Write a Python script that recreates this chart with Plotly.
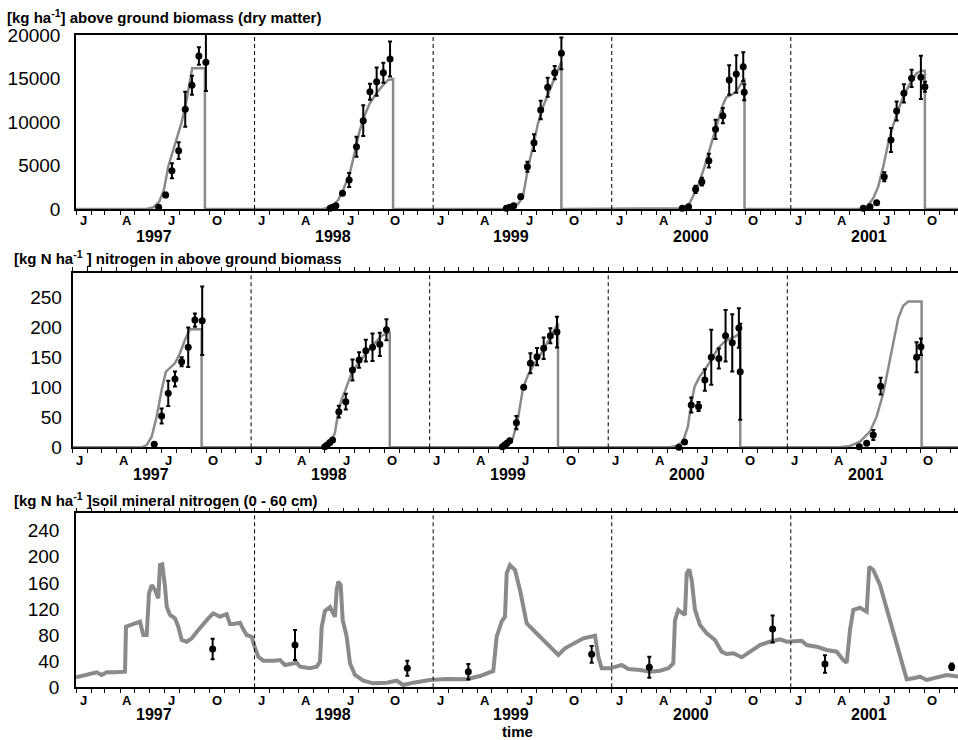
import pandas as pd
import plotly.graph_objects as go

YEARS = [1997, 1998, 1999, 2000, 2001]
MONTH_LETTERS = ["J", "A", "J", "O"]
MONTH_NUMS = [1, 4, 7, 10]

# ---------------- above ground biomass (kg/ha) -----------------
# simulated: (day of year, value)
bm_sim = {
    1997: [(144.4, 0), (157.9, 192), (170.1, 843), (179.7, 2184), (188.5, 4866), (198.7, 6782),
           (215.9, 9962), (226.1, 12529), (232.8, 14943), (237.5, 16169), (263.5, 16169), (263.5, 0)],
    1998: [(140.1, 0), (157.3, 192), (170.8, 1034), (181.0, 2184), (194.7, 4100), (204.9, 6782),
           (215.1, 9081), (225.3, 10805), (235.5, 12146), (249.2, 13295), (262.7, 14253),
           (272.9, 14828), (283.1, 14943), (283.1, 0)],
    1999: [(146.2, 0), (159.9, 192), (173.4, 575), (183.6, 1418), (193.8, 4674), (204.0, 7165),
           (214.3, 9847), (224.5, 11762), (238.2, 13678), (251.8, 15402), (262.1, 16935), (262.1, 0)],
    2000: [(131.9, 0), (145.4, 77), (159.1, 655), (176.1, 2567), (189.7, 4866), (203.4, 7548),
           (216.9, 10038), (227.1, 11954), (234.1, 12835), (244.3, 13103), (254.5, 13487),
           (264.7, 14444), (270.0, 15019), (271.4, 15019), (271.4, 0)],
    2001: [(141.3, 0), (155.0, 268), (168.5, 1226), (178.7, 2567), (188.9, 4866), (199.1, 7548),
           (209.4, 9655), (219.6, 11379), (229.8, 12912), (243.5, 14444), (257.2, 15594),
           (267.4, 15900), (274.1, 15900), (274.1, 0)],
}
# observed: (day of year, mean, error)
bm_obs = {
    1997: [(168.9, 195, 150), (183.2, 1609, 250), (196.1, 4406, 862), (209.8, 6705, 958),
           (223.3, 11460, 2011), (237.0, 14220, 1092), (251.2, 17586, 996), (265.5, 16862, 3300)],
    1998: [(154.4, 80, 0), (159.3, 192, 0), (166.1, 383, 0), (179.7, 1801, 200), (193.3, 3333, 805),
           (208.3, 7160, 1149), (222.1, 10150, 1762), (235.8, 13487, 920), (249.5, 14636, 1628),
           (263.2, 15670, 1149), (276.9, 17241, 2011)],
    1999: [(149.7, 80, 0), (156.5, 192, 0), (164.6, 383, 0), (178.9, 1418, 250), (192.6, 4866, 575),
           (206.1, 7625, 958), (219.8, 11379, 1054), (234.1, 13985, 1092), (248.4, 15670, 766),
           (262.1, 17893, 1820)],
    2000: [(144.2, 80, 0), (157.1, 268, 0), (171.4, 2261, 421), (184.2, 3142, 440), (198.5, 5555, 785),
           (212.2, 9157, 1111), (227.1, 10728, 881), (240.1, 14828, 1686), (254.5, 15517, 2146),
           (268.8, 16360, 1667), (270.8, 13410, 920)],
    2001: [(148.1, 80, 0), (161.8, 268, 0), (175.5, 728, 0), (191.0, 3717, 517), (204.7, 7931, 1379),
           (216.3, 11264, 1092), (231.2, 13295, 1054), (246.9, 15019, 996), (265.9, 15134, 2490),
           (274.1, 14061, 575)],
}

# ---------------- nitrogen in above ground biomass (kg N/ha) -----------------
n_sim = {
    1997: [(141.3, 0), (151.6, 3.8), (161.8, 17.7), (172.0, 51.0), (182.2, 95.5), (191.0, 126.0),
           (199.1, 131.7), (209.4, 140.0), (219.6, 156.7), (229.8, 178.8), (240.0, 196.7),
           (263.9, 196.7), (263.9, 0)],
    1998: [(147.3, 0), (161.0, 6.7), (171.2, 23.3), (177.9, 56.7), (184.8, 78.9), (191.6, 92.8),
           (205.3, 123.3), (218.8, 140.0), (232.4, 153.9), (249.4, 170.6), (266.5, 185.6),
           (280.0, 191.1), (283.5, 191.1), (283.5, 0)],
    1999: [(146.6, 0), (160.1, 3.8), (170.3, 15.0), (180.6, 48.3), (190.8, 98.3), (201.0, 120.5),
           (214.7, 140.0), (228.3, 156.7), (245.3, 181.7), (259.0, 203.0), (262.3, 206.7), (262.3, 0)],
    2000: [(125.4, 0), (139.1, 2.2), (152.6, 9.4), (162.8, 34.4), (169.7, 73.3), (176.5, 101.0),
           (186.7, 117.7), (196.9, 128.8), (210.6, 145.5), (224.1, 165.0), (237.7, 176.0),
           (251.4, 181.7), (261.6, 185.5), (268.4, 190.0), (269.8, 190.0), (269.8, 0)],
    2001: [(107.6, 0), (128.0, 2.2), (148.5, 9.4), (168.9, 26.1), (182.6, 51.1), (196.1, 90.0),
           (206.3, 128.9), (216.5, 173.3), (226.7, 215.0), (236.9, 236.0), (247.1, 243.0),
           (274.5, 243.0), (274.5, 0)],
}
n_obs = {
    1997: [(167.1, 5, 0), (182.2, 52.2, 12.5), (195.7, 90, 21), (209.4, 113.8, 12.5),
           (223.1, 142.7, 7.5), (236.5, 166.7, 33), (250.2, 212, 11), (265.1, 211, 57)],
    1998: [(150.7, 1, 0), (155.4, 3.9, 0), (161.0, 7.8, 0), (166.5, 12.2, 0), (179.4, 59.4, 9.7),
           (193.6, 76.1, 13.3), (207.3, 128.9, 17.5), (220.8, 145.6, 13), (234.5, 161.1, 18),
           (248.2, 166.7, 23), (263.1, 171.7, 19.4), (276.7, 196, 17.5)],
    1999: [(148.7, 1, 0), (153.4, 3.9, 0), (158.1, 6.7, 0), (163.6, 11.1, 0), (177.3, 41.1, 11),
           (192.2, 100, 0), (205.9, 140, 16.7), (219.4, 151.1, 14.4), (233.1, 165, 18),
           (246.7, 186, 12.5), (260.2, 192, 25.6)],
    2000: [(144.4, 0, 0), (156.0, 8.9, 0), (169.7, 70.6, 12.5), (184.6, 67.8, 7.5), (197.5, 112.2, 18),
           (210.6, 150.2, 45.8), (226.1, 148, 16.7), (239.8, 185.9, 43), (253.5, 174.1, 47.8),
           (267.0, 198.8, 33), (269.8, 125.8, 80)],
    2001: [(147.1, 1, 0), (162.2, 6.7, 0), (175.7, 20.6, 8.3), (190.8, 101.9, 13.9),
           (264.3, 150.2, 25), (273.1, 167.6, 13.9)],
}

# ---------------- soil mineral nitrogen 0-60 cm (kg N/ha) -----------------
# simulated: (days since 1997-01-01, value)
soil_sim = [
    (0, 15.3), (21.8, 18.9), (42.2, 23), (52.5, 18.9), (62.7, 23), (79.7, 23), (96.7, 23.9),
    (100.2, 23.9), (102.2, 92.9), (117.1, 97), (130.8, 100.5), (137.6, 80.2), (144.5, 80.2),
    (149.2, 144.1), (154.7, 156.8), (161.5, 149.1), (168.2, 136.4), (171.7, 187.4), (176.4, 188.5),
    (181.9, 154.2), (185.4, 123.5), (192.1, 110.8), (202.3, 105.7), (209.1, 92.9), (216.0, 72.5),
    (226.3, 69.9), (236.5, 75.1), (250.0, 87.8), (263.7, 100.5), (270.4, 105.7), (280.6, 113.4),
    (294.3, 108.2), (308.0, 112.3), (314.8, 97), (321.5, 97), (335.2, 99), (341.9, 88.9),
    (348.9, 80.2), (359.1, 77.5), (363.8, 64.8), (372.6, 46.9), (382.8, 40.8), (403.3, 40.8),
    (417.0, 41.8), (427.2, 34.2), (444.2, 37.7), (451.1, 37.7), (457.8, 31.6), (478.3, 29.1),
    (491.9, 31.6), (498.7, 39.2), (502.2, 92.9), (508.9, 117), (519.2, 123), (529.4, 108.2),
    (532.8, 149.1), (536.1, 161.8), (541.0, 156.8), (545.1, 103.1), (553.3, 77.5), (560.0, 36.8),
    (570.2, 18.9), (587.2, 10.1), (607.6, 6.1), (635.0, 7.1), (655.5, 10.1), (668.9, 3.5),
    (689.4, 7.1), (723.5, 11.2), (757.6, 12.7), (798.5, 12.3), (825.7, 17.3), (852.9, 25),
    (859.8, 77.5), (870.0, 100.5), (876.8, 108.2), (880.3, 174.7), (887.0, 187.4), (897.3, 179.8),
    (907.5, 149.1), (921.2, 98.1), (934.7, 87.8), (962.1, 67.4), (985.8, 49.5), (999.5, 59.8),
    (1036.9, 75.1), (1060.8, 79.1), (1067.6, 46.9), (1074.5, 29.1), (1091.4, 29.1),
    (1115.4, 34.2), (1128.9, 28), (1152.8, 26.5), (1173.2, 23.9), (1193.6, 25.4), (1210.6, 29.1),
    (1220.8, 36.8), (1224.3, 103.1), (1231.0, 118.5), (1241.3, 113.4), (1244.7, 110.8),
    (1248.2, 174.7), (1253.5, 180.8), (1258.4, 164.4), (1265.2, 118.5), (1275.4, 95.5),
    (1289.1, 82.8), (1306.1, 72.5), (1319.7, 54.6), (1329.9, 51), (1343.5, 52.1), (1360.6, 46),
    (1377.6, 54.6), (1398.0, 64.8), (1418.5, 69.9), (1438.9, 73.6), (1452.6, 69.9), (1473.0, 71),
    (1483.2, 71.4), (1493.5, 64.8), (1513.9, 62.2), (1534.3, 57.2), (1554.8, 54.6),
    (1568.3, 41.8), (1575.2, 37.7), (1582.0, 87.8), (1588.7, 118.5), (1602.4, 122),
    (1616.1, 115.9), (1621.4, 184.8), (1629.6, 179.8), (1643.3, 156.8), (1663.7, 103.1),
    (1684.2, 46.9), (1697.9, 12.3), (1711.4, 13.8), (1725.1, 16.2), (1738.8, 11.2),
    (1752.2, 13.8), (1765.9, 17.3), (1779.6, 18.9), (1805.4, 16.2),
]
soil_obs = [
    (279.3, 58.7, 15.8), (447.6, 64.8, 23), (677.2, 29.1, 11.5), (801.9, 23.9, 11.8),
    (1054.0, 50.6, 12.8), (1171.8, 30.6, 16.1), (1423.9, 89.4, 20.7), (1530.8, 35.7, 13.5),
    (1789.8, 31.6, 5),
]

TITLES = [
    "<b>[kg ha<sup>-1</sup>] above ground biomass (dry matter)</b>",
    "<b>[kg N ha<sup>-1</sup> ] nitrogen in above ground biomass</b>",
    "<b>[kg N ha<sup>-1</sup> ]soil mineral nitrogen (0 - 60 cm)</b>",
]
Y_TICKS = [
    [0, 5000, 10000, 15000, 20000],
    [0, 50, 100, 150, 200, 250],
    [0, 40, 80, 120, 160, 200, 240],
]

# ---------------- helpers -----------------
START = pd.Timestamp("1997-01-01")
END = pd.Timestamp("2002-01-01")


def doy_date(year, d):
    return pd.Timestamp(year=year, month=1, day=1) + pd.Timedelta(days=d)


def yearly_sim(sim):
    xs, ys = [START], [0]
    for yr in YEARS:
        for d, v in sim[yr]:
            xs.append(doy_date(yr, d))
            ys.append(v)
    xs.append(END)
    ys.append(0)
    return xs, ys


def yearly_obs(obs):
    xs, ys, es = [], [], []
    for yr in YEARS:
        for d, v, e in obs[yr]:
            xs.append(doy_date(yr, d))
            ys.append(v)
            es.append(e)
    return xs, ys, es


GRAY = "#8a8a8a"
FONT = "Liberation Sans, Arial, sans-serif"

fig = go.Figure()


def add_panel(sim_xy, obs_xye, xa, ya, lw):
    sx, sy = sim_xy
    fig.add_trace(go.Scatter(x=sx, y=sy, mode="lines", line=dict(color=GRAY, width=lw),
                             xaxis=xa, yaxis=ya, hoverinfo="skip"))
    ox, oy, oe = obs_xye
    fig.add_trace(go.Scatter(x=ox, y=oy, mode="markers", cliponaxis=False,
                             marker=dict(color="black", size=7),
                             error_y=dict(type="data", array=oe, color="black", thickness=2, width=2),
                             xaxis=xa, yaxis=ya))


add_panel(yearly_sim(bm_sim), yearly_obs(bm_obs), "x", "y", 2.5)
add_panel(yearly_sim(n_sim), yearly_obs(n_obs), "x2", "y2", 2.5)
add_panel(([START + pd.Timedelta(days=d) for d, _ in soil_sim], [v for _, v in soil_sim]),
          ([START + pd.Timedelta(days=d) for d, _, _ in soil_obs],
           [v for _, v, _ in soil_obs], [e for _, _, e in soil_obs]),
          "x3", "y3", 4)

W, H = 958, 740
DAYS_PER_PX = 365.25 / 178.7

# panel geometry in pixels: (left, top, bottom)
panels = [(76.0, 35.0, 209.0), (72.5, 272.7, 447.3), (76.0, 513.3, 687.3)]
y_ranges = [[0, 20000], [0, 291], [0, 266.7]]
tick_lens = [10, 5, 11]
mirrors = [True, "ticks", "ticks"]

layout = dict(width=W, height=H, autosize=False,
              margin=dict(l=0, r=0, t=0, b=0, pad=0, autoexpand=False),
              paper_bgcolor="white", plot_bgcolor="white", showlegend=False,
              font=dict(family=FONT, color="black"))
shapes, annots = [], []
month_y = [220, 460, 700]
year_y = [236, 474, 714]
title_pos = [(5, 16), (12, 257), (12, 499)]

for i, (left, top, bottom) in enumerate(panels):
    sfx = "" if i == 0 else str(i + 1)
    xref = "x" + sfx
    yref = "y" + sfx
    end = START + pd.Timedelta(days=(W - left) * DAYS_PER_PX)
    layout["xaxis" + sfx] = dict(
        domain=[left / W, 1], anchor=yref, type="date", range=[START, end], automargin=False,
        tick0="1997-01-01", dtick="M1", ticks="outside", ticklen=4, tickwidth=1, tickcolor="black",
        showticklabels=False, showline=True, linecolor="black", linewidth=1.5, mirror=mirrors[i],
        showgrid=False, zeroline=False, layer="below traces")
    layout["yaxis" + sfx] = dict(
        domain=[1 - bottom / H, 1 - top / H], anchor=xref, range=y_ranges[i], automargin=False,
        tickvals=Y_TICKS[i], ticktext=[str(t) for t in Y_TICKS[i]],
        ticks="outside", ticklen=tick_lens[i], tickcolor="rgba(0,0,0,0)",
        tickfont=dict(size=19, family=FONT, color="black"),
        showline=True, linecolor="black", linewidth=1.5, showgrid=False, zeroline=False,
        layer="below traces")
    for yr in YEARS[1:]:
        shapes.append(dict(type="line", xref=xref, yref=yref + " domain",
                           x0=f"{yr}-01-01", x1=f"{yr}-01-01", y0=0, y1=1,
                           line=dict(color="black", width=1, dash="4px,3px")))
    for yr in YEARS:
        for m, letter in zip(MONTH_NUMS, MONTH_LETTERS):
            annots.append(dict(x=f"{yr}-{m:02d}-16", xref=xref, y=1 - month_y[i] / H, yref="paper",
                               text=f"<b>{letter}</b>", showarrow=False, xanchor="center",
                               yanchor="middle", font=dict(size=13, family=FONT, color="black")))
        annots.append(dict(x=f"{yr}-06-10", xref=xref, y=1 - year_y[i] / H, yref="paper",
                           text=f"<b>{yr}</b>", showarrow=False, xanchor="center", yanchor="middle",
                           font=dict(size=16, family=FONT, color="black")))
    tx, ty = title_pos[i]
    annots.append(dict(x=tx / W, y=1 - ty / H, xref="paper", yref="paper", text=TITLES[i],
                       showarrow=False, xanchor="left", yanchor="middle",
                       font=dict(size=15, family=FONT, color="black")))

annots.append(dict(x=517 / W, y=1 - 731 / H, xref="paper", yref="paper", text="<b>time</b>",
                   showarrow=False, xanchor="center", yanchor="middle",
                   font=dict(size=15, family=FONT, color="black")))

layout["shapes"] = shapes
layout["annotations"] = annots
fig.update_layout(**layout)
fig.write_html("out.html")
